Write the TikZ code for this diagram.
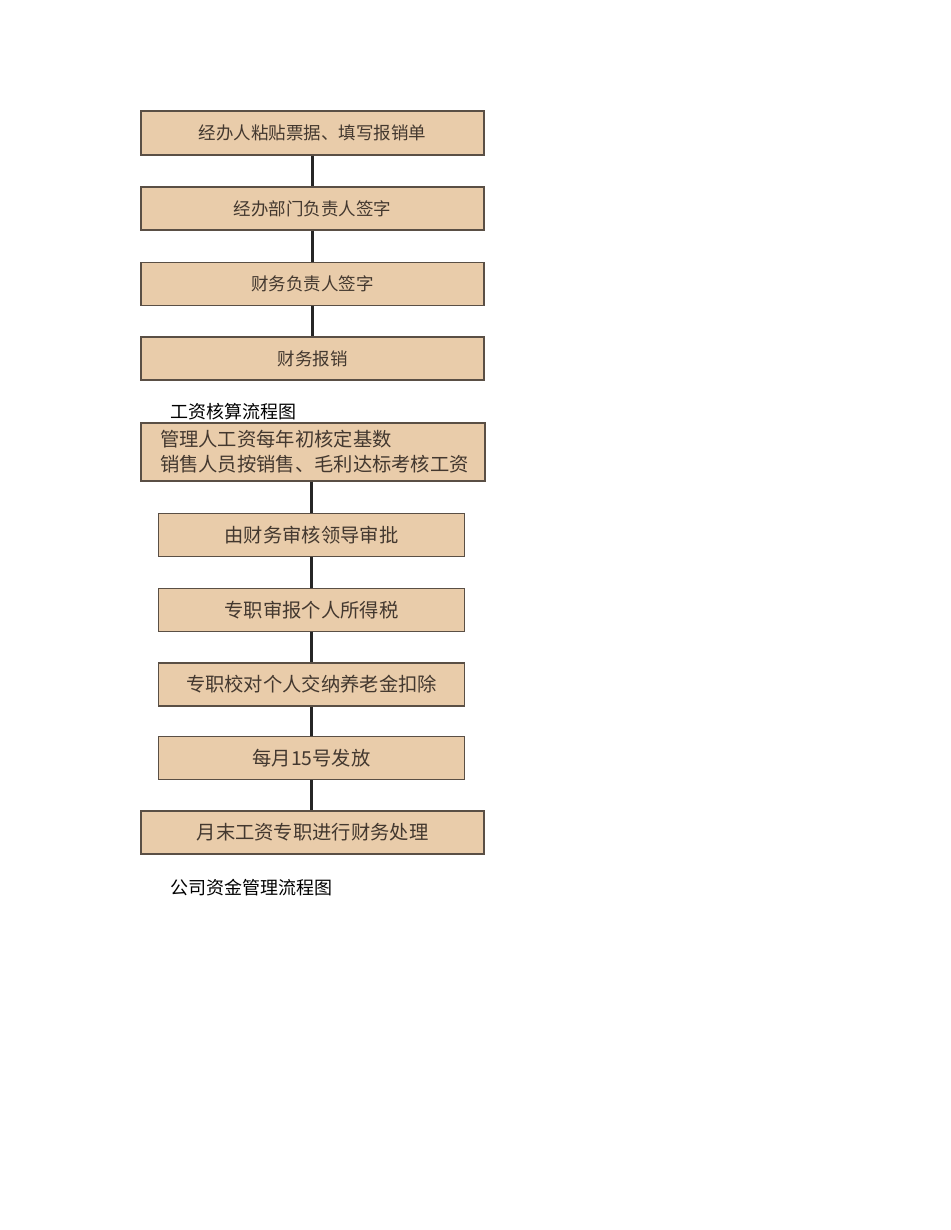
\documentclass[tikz,border=0pt]{standalone}
\usepackage{fontspec}
\newfontfamily\cjk{Noto Sans CJK SC}
\definecolor{boxfill}{HTML}{E9CCAA}
\definecolor{boxline}{HTML}{5A4F45}
\definecolor{boxtext}{HTML}{43382F}
\begin{document}
\begin{tikzpicture}[x=1pt,y=-1pt,
  stepbox/.style={draw=boxline,line width=1.3pt,fill=boxfill,text=boxtext,
    minimum height=43pt,inner sep=0pt,font=\cjk\fontsize{17.5}{20}\selectfont},
  wide/.style={minimum width=343pt},
  narrow/.style={minimum width=306pt},
  big/.style={font=\cjk\fontsize{19.3}{25}\selectfont},
  link/.style={draw=black!85,line width=2.4pt},
  caption/.style={anchor=west,inner sep=0pt,font=\cjk\fontsize{18}{20}\selectfont,text=black}]
\useasboundingbox (0,0) rectangle (950,1230);
\fill[white] (0,0) rectangle (950,1230);
% first flow
\node[stepbox,wide,minimum height=44pt] (a1) at (312.5,133) {经办人粘贴票据、填写报销单};
\node[stepbox,wide] (a2) at (312.5,208.5) {经办部门负责人签字};
\node[stepbox,wide] (a3) at (312.5,284) {财务负责人签字};
\node[stepbox,wide] (a4) at (312.5,358.5) {财务报销};
\draw[link] (a1.south) -- (a1.south |- a2.north);
\draw[link] (a2.south) -- (a2.south |- a3.north);
\draw[link] (a3.south) -- (a3.south |- a4.north);
% caption 1
\node[caption] (c1) at (170,412) {工资核算流程图};
% second flow
\node[stepbox,big,minimum width=344pt,minimum height=58pt,align=left,text width=324pt] (b1) at (313,452) {\hspace*{9pt}管理人工资每年初核定基数\\\hspace*{9pt}销售人员按销售、毛利达标考核工资};
\node[stepbox,big,narrow] (b2) at (311.5,535) {由财务审核领导审批};
\node[stepbox,big,narrow] (b3) at (311.5,610) {专职审报个人所得税};
\node[stepbox,big,narrow] (b4) at (311.5,684.5) {专职校对个人交纳养老金扣除};
\node[stepbox,big,narrow] (b5) at (311.5,758) {每月15号发放};
\node[stepbox,big,wide] (b6) at (312.5,832.5) {月末工资专职进行财务处理};
\draw[link] (b1.south -| b2.north) -- (b2.north);
\draw[link] (b2.south) -- (b3.north);
\draw[link] (b3.south) -- (b4.north);
\draw[link] (b4.south) -- (b5.north);
\draw[link] (b5.south) -- (b5.south |- b6.north);
% caption 2
\node[caption] (c2) at (170,888) {公司资金管理流程图};
\end{tikzpicture}
\end{document}
